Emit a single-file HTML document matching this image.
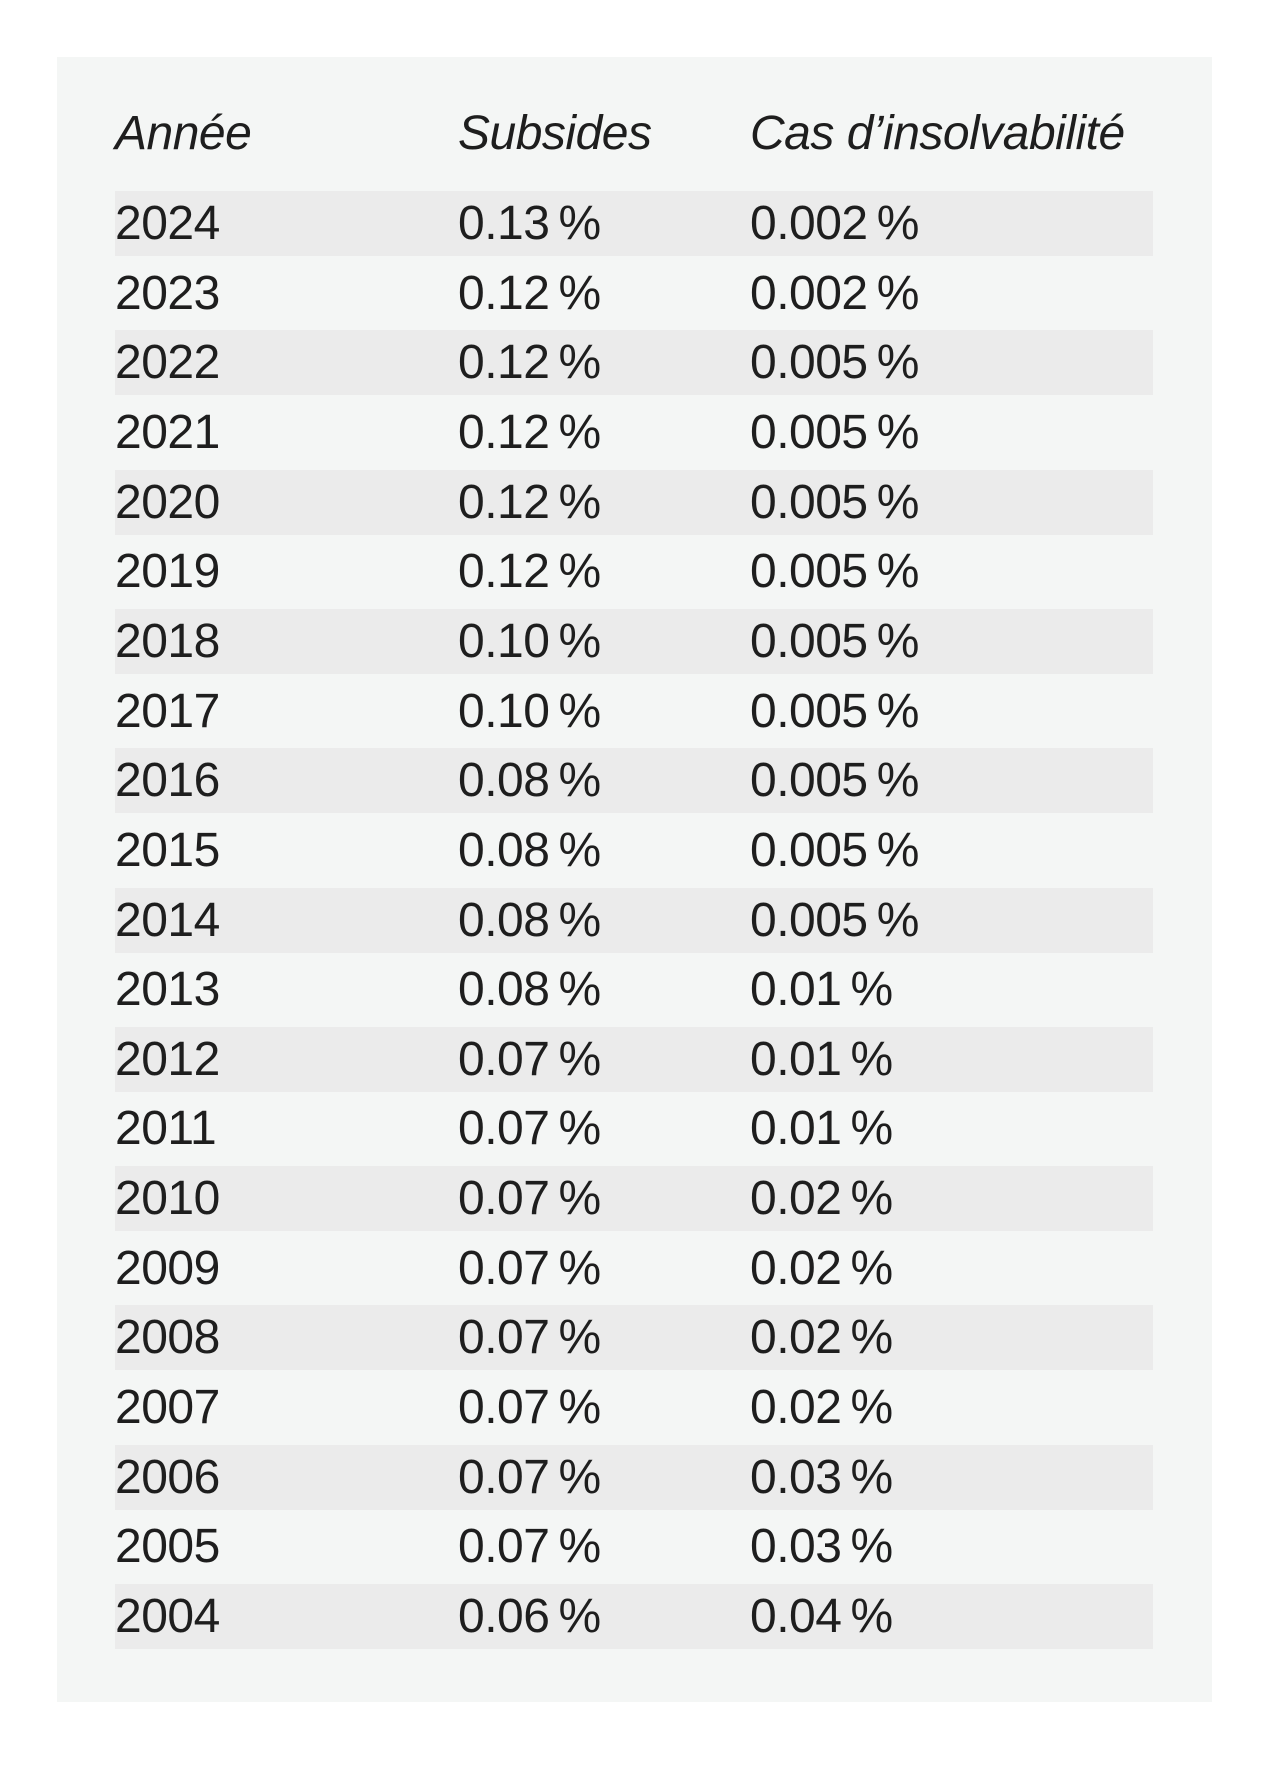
<!DOCTYPE html>
<html><head><meta charset="utf-8"><style>
html,body{margin:0;padding:0;background:#fff;width:1280px;height:1775px;overflow:hidden}
body{font-family:"Liberation Sans",sans-serif;color:#1e1e1e;position:relative}
.panel{position:absolute;left:57px;top:57px;width:1155px;height:1645px;background:#f4f6f5}
.row{position:absolute;left:115px;width:1038px;height:65px}
.row.s{background:#ebebeb}
.c{position:absolute;top:0;line-height:65px;font-size:48px;letter-spacing:-0.5px}
.h{position:absolute;top:106px;font-size:48px;font-style:italic;line-height:56px;letter-spacing:-0.5px}
</style></head><body>
<div class="panel"></div>
<div class="h" style="left:115px">Année</div>
<div class="h" style="left:458px">Subsides</div>
<div class="h" style="left:750px">Cas d’insolvabilité</div>
<div id="rows"></div>
<script>
var d=[["2024","0.13","0.002"],["2023","0.12","0.002"],["2022","0.12","0.005"],["2021","0.12","0.005"],["2020","0.12","0.005"],["2019","0.12","0.005"],["2018","0.10","0.005"],["2017","0.10","0.005"],["2016","0.08","0.005"],["2015","0.08","0.005"],["2014","0.08","0.005"],["2013","0.08","0.01"],["2012","0.07","0.01"],["2011","0.07","0.01"],["2010","0.07","0.02"],["2009","0.07","0.02"],["2008","0.07","0.02"],["2007","0.07","0.02"],["2006","0.07","0.03"],["2005","0.07","0.03"],["2004","0.06","0.04"]];
var h="";
d.forEach(function(r,i){var t=191+i*69.65;
h+='<div class="row'+(i%2==0?' s':'')+'" style="top:'+t+'px"><div class="c" style="left:0">'+r[0]+'</div><div class="c" style="left:343px">'+r[1]+'\u2009%</div><div class="c" style="left:635px">'+r[2]+'\u2009%</div></div>';});
document.getElementById("rows").innerHTML=h;
</script>
</body></html>
